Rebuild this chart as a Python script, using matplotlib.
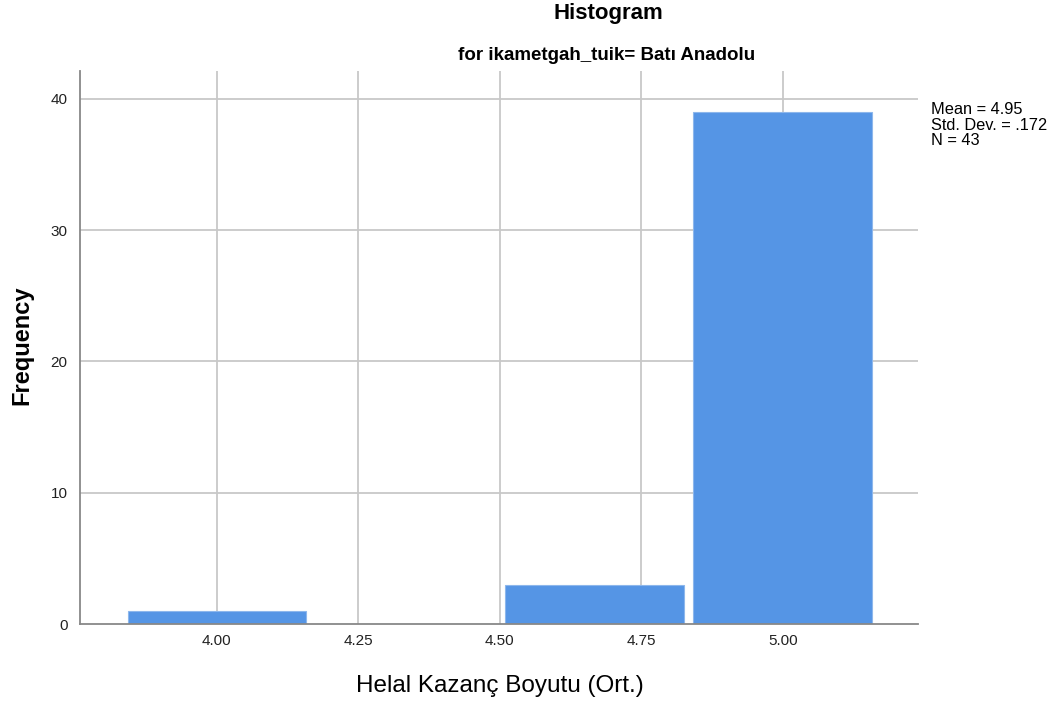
import matplotlib
matplotlib.use("Agg")
import matplotlib.pyplot as plt

plt.rcParams['font.family'] = ['Liberation Sans', 'DejaVu Sans']

bin_centers = [4.0, 4.3333, 4.6667, 5.0]
counts = [1, 0, 3, 39]
x_ticks = [4.00, 4.25, 4.50, 4.75, 5.00]
x_tick_labels = ["4.00", "4.25", "4.50", "4.75", "5.00"]
y_ticks = [0, 10, 20, 30, 40]
stats_lines = ["Mean = 4.95", "Std. Dev. = .172", "N = 43"]

fig = plt.figure(figsize=(10.54, 7.04), dpi=100)
ax = fig.add_axes([80/1054, 80/704, 838/1054, 553/704])

ax.set_xlim(3.758, 5.239)
ax.set_ylim(0, 42.13)

ax.set_axisbelow(True)
for xt in x_ticks:
    ax.axvline(xt, color='#c8c8c8', lw=1.3, zorder=0)
for yt in y_ticks[1:]:
    ax.axhline(yt, color='#c8c8c8', lw=1.3, zorder=0)

ax.bar(bin_centers, counts, width=0.316, color='#5595e5', edgecolor='#8db7ec', linewidth=0.8, zorder=2)

ax.set_xticks(x_ticks)
ax.set_xticklabels(x_tick_labels)
ax.set_yticks(y_ticks)
ax.tick_params(axis='both', length=0, labelsize=11, colors='#222222', pad=7)
ax.tick_params(axis='y', pad=9)

for s in ['top', 'right']:
    ax.spines[s].set_visible(False)
for s in ['left', 'bottom']:
    ax.spines[s].set_color('#888888')
    ax.spines[s].set_linewidth(1.3)

fig.text(22/1054, 1 - 345/704, "Frequency", ha='center', va='center', rotation=90, fontsize=17, fontweight='bold')
fig.text(500/1054, 1 - 686/704, "Helal Kazanç Boyutu (Ort.)", ha='center', va='center', fontsize=17.5)

fig.text(608/1054, 1 - 13/704, "Histogram", ha='center', va='center', fontsize=16, fontweight='bold')
fig.text(607/1054, 1 - 56/704, "for ikametgah_tuik= Batı Anadolu", ha='center', va='center', fontsize=13.5, fontweight='bold')

fig.text(931/1054, 1 - 102/704, "\n".join(stats_lines), ha='left', va='top', fontsize=11.8, linespacing=1.05)

fig.savefig("out.png", dpi=100, facecolor='white')
